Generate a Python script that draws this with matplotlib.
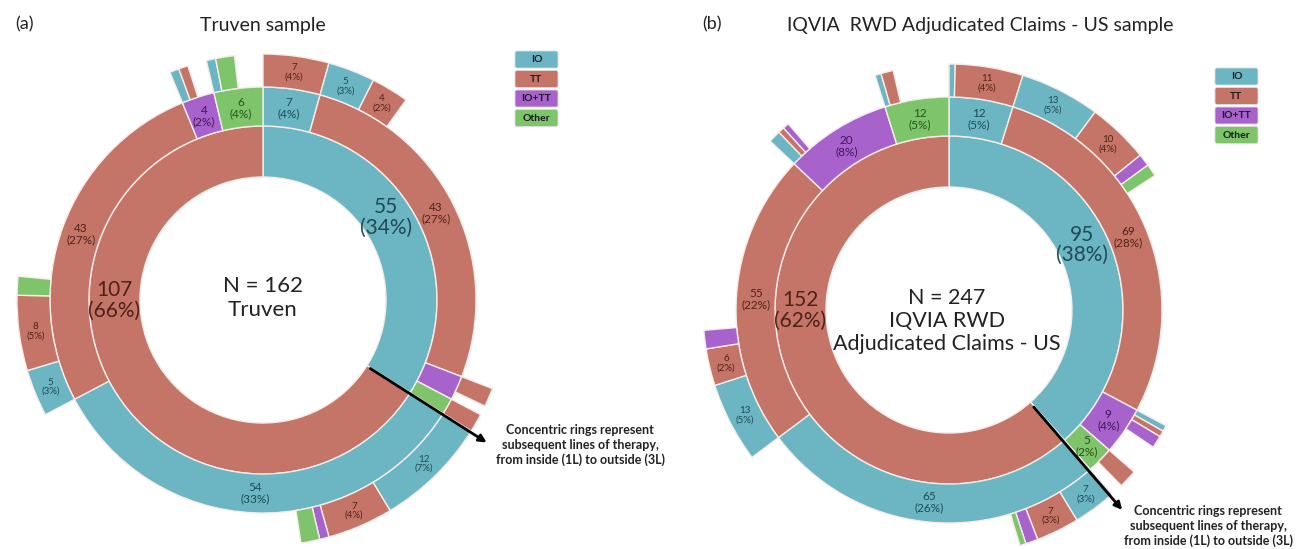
import numpy as np
import matplotlib
matplotlib.use("Agg")
import matplotlib.pyplot as plt
from matplotlib.patches import Wedge, FancyBboxPatch

plt.rcParams['font.family'] = ['Lato', 'DejaVu Sans']

# --- data (patients per line of therapy) ---
categories = ["IO", "TT", "IO+TT", "Other"]

truven_n = 162
truven_1l = [("IO", 55), ("TT", 107)]
truven_2l = [[("IO", 7), ("TT", 43), ("IO+TT", 3), ("Other", 2)],
             [("IO", 54), ("TT", 43), ("IO+TT", 4), ("Other", 6)]]
truven_3l = [[[("TT", 7)], [("IO", 5), ("TT", 4)], [("TT", 2)], [("TT", 2)]],
             [[("IO", 12), ("TT", 7), ("IO+TT", 1), ("Other", 2)],
              [("IO", 5), ("TT", 8), ("Other", 2)],
              [("IO", 1), ("TT", 1)],
              [("IO", 1), ("Other", 2)]]]

iqvia_n = 247
iqvia_1l = [("IO", 95), ("TT", 152)]
iqvia_2l = [[("IO", 12), ("TT", 69), ("IO+TT", 9), ("Other", 5)],
            [("IO", 65), ("TT", 55), ("IO+TT", 20), ("Other", 12)]]
iqvia_3l = [[[("IO", 1), ("TT", 11)], [("IO", 13), ("TT", 10), ("IO+TT", 2), ("Other", 2)],
             [("IO", 1), ("TT", 1), ("IO+TT", 2)], [("TT", 3)]],
            [[("IO", 7), ("TT", 7), ("IO+TT", 2), ("Other", 1)],
             [("IO", 13), ("TT", 6), ("IO+TT", 3)],
             [("IO", 2), ("TT", 1), ("IO+TT", 1)],
             [("IO", 1), ("TT", 2)]]]

colors = {"IO": "#6cb6c4", "TT": "#c57568", "IO+TT": "#a763cb", "Other": "#7dc46b"}
txt_colors = {"IO": "#1d4a56", "TT": "#4e2119", "IO+TT": "#3e1658", "Other": "#2a5219"}

R = [123, 174, 213, 246]
MIN_LABEL = 4

fig = plt.figure(figsize=(12.96, 5.49), dpi=100)
ax = fig.add_axes([0, 0, 1, 1])
ax.set_xlim(0, 1296)
ax.set_ylim(549, 0)
ax.axis('off')


def seg(cx, cy, r0, r1, phi0, phi1, cat, n, N, fs, lab_phi=None):
    # phi measured clockwise from 12 o'clock; y axis is inverted
    w = Wedge((cx, cy), r1, phi0 - 90, phi1 - 90, width=r1 - r0,
              facecolor=colors[cat], edgecolor='#f6ecea', linewidth=1.0)
    ax.add_patch(w)
    if n >= MIN_LABEL:
        if lab_phi is None:
            lab_phi = (phi0 + phi1) / 2
        mid = np.radians(lab_phi)
        rm = (r0 + r1) / 2
        ax.text(cx + rm * np.sin(mid), cy - rm * np.cos(mid),
                "%d\n(%d%%)" % (n, round(n / N * 100)),
                ha='center', va='center', fontsize=fs, color=txt_colors[cat],
                linespacing=1.05)


def sunburst(cx, cy, N, l1, l2, l3, l1_lab_phi):
    phi = 0.0
    for i, (c1, n1) in enumerate(l1):
        s1 = n1 / N * 360
        seg(cx, cy, R[0], R[1], phi, phi + s1, c1, n1, N, 15, l1_lab_phi[i])
        phi2 = phi
        for j, (c2, n2) in enumerate(l2[i]):
            s2 = n2 / N * 360
            seg(cx, cy, R[1], R[2], phi2, phi2 + s2, c2, n2, N, 8.5)
            phi3 = phi2
            for c3, n3 in l3[i][j]:
                s3 = n3 / N * 360
                seg(cx, cy, R[2], R[3], phi3, phi3 + s3, c3, n3, N, 7)
                phi3 += s3
            phi2 += s2
        phi += s1


def legend(x, y):
    for k, cat in enumerate(categories):
        yy = y + k * 19.5
        ax.add_patch(FancyBboxPatch((x, yy), 43, 17, boxstyle="round,pad=0,rounding_size=2",
                                    facecolor=colors[cat], edgecolor='#dddddd', linewidth=0.6))
        ax.text(x + 21.5, yy + 8.8, cat, ha='center', va='center', fontsize=7.5,
                fontweight='bold', color='#1a1a1a')


note = "Concentric rings represent\nsubsequent lines of therapy,\nfrom inside (1L) to outside (3L)"

# (a) Truven
sunburst(263, 300, truven_n, truven_1l, truven_2l, truven_3l, [56, 270])
ax.text(263, 298, "N = 162\nTruven", ha='center', va='center', fontsize=16,
        color='#222222', linespacing=1.2)
ax.text(24, 24, "(a)", ha='center', va='center', fontsize=13, color='#222222')
ax.text(263, 26, "Truven sample", ha='center', va='center', fontsize=14, color='#222222')
legend(515, 51)
ax.annotate('', xy=(489, 444), xytext=(368, 367),
            arrowprops=dict(arrowstyle='-|>', color='black', lw=2, mutation_scale=11))
ax.text(580, 445, note, ha='center', va='center', fontsize=9, fontweight='bold',
        color='#222222', linespacing=1.3)

# (b) IQVIA
sunburst(949, 310, iqvia_n, iqvia_1l, iqvia_2l, iqvia_3l, [64, 270])
ax.text(947, 321, "N = 247\nIQVIA RWD\nAdjudicated Claims - US", ha='center', va='center',
        fontsize=15.5, color='#222222', linespacing=1.2)
ax.text(712, 24, "(b)", ha='center', va='center', fontsize=13, color='#222222')
ax.text(980, 26, "IQVIA  RWD Adjudicated Claims - US sample", ha='center', va='center',
        fontsize=14, color='#222222')
legend(1215, 68)
ax.annotate('', xy=(1124, 512), xytext=(1032, 405),
            arrowprops=dict(arrowstyle='-|>', color='black', lw=2, mutation_scale=11))
ax.text(1208, 526, note, ha='center', va='center', fontsize=9, fontweight='bold',
        color='#222222', linespacing=1.3)

fig.savefig("out.png", dpi=100, facecolor='white')
